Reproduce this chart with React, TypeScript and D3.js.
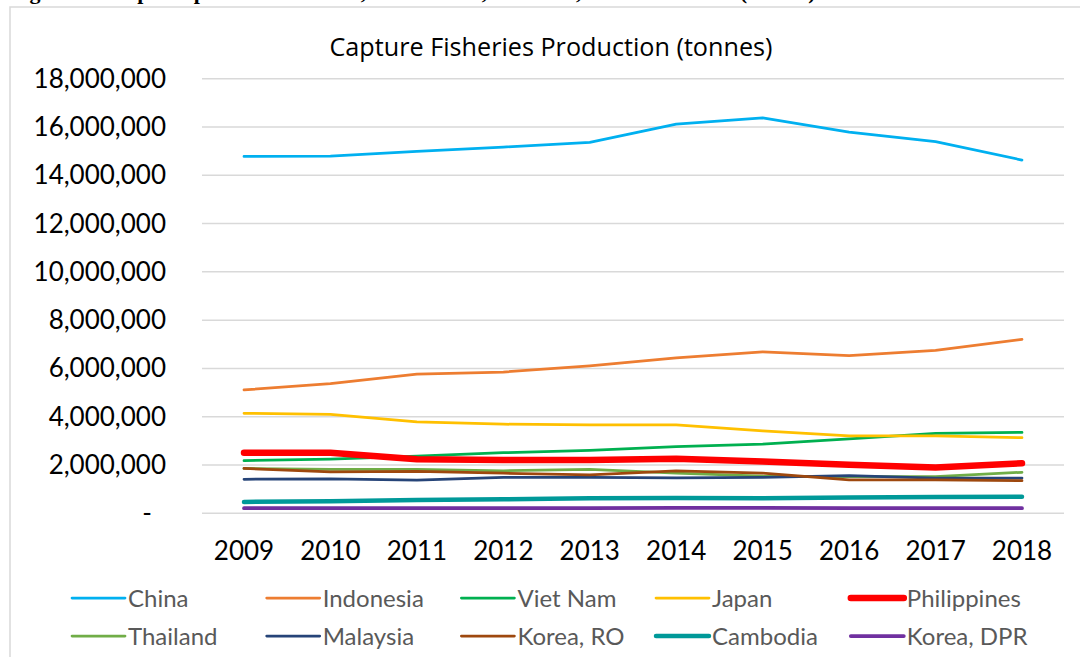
import React from "react";
import * as d3 from "d3";

const years = ["2009", "2010", "2011", "2012", "2013", "2014", "2015", "2016", "2017", "2018"];
const yTicks = [0, 2e6, 4e6, 6e6, 8e6, 10e6, 12e6, 14e6, 16e6, 18e6];

const china = [14.78e6, 14.79e6, 14.99e6, 15.17e6, 15.36e6, 16.12e6, 16.38e6, 15.79e6, 15.39e6, 14.63e6];
const indonesia = [5.11e6, 5.37e6, 5.76e6, 5.85e6, 6.11e6, 6.44e6, 6.69e6, 6.53e6, 6.75e6, 7.2e6];
const vietNam = [2.18e6, 2.24e6, 2.37e6, 2.51e6, 2.61e6, 2.76e6, 2.87e6, 3.08e6, 3.31e6, 3.35e6];
const japan = [4.14e6, 4.1e6, 3.79e6, 3.69e6, 3.66e6, 3.66e6, 3.41e6, 3.21e6, 3.21e6, 3.13e6];
const philippines = [2.51e6, 2.51e6, 2.24e6, 2.21e6, 2.21e6, 2.26e6, 2.15e6, 2.01e6, 1.9e6, 2.07e6];
const thailand = [1.86e6, 1.82e6, 1.82e6, 1.76e6, 1.82e6, 1.66e6, 1.54e6, 1.52e6, 1.52e6, 1.7e6];
const malaysia = [1.41e6, 1.43e6, 1.37e6, 1.49e6, 1.49e6, 1.47e6, 1.49e6, 1.56e6, 1.46e6, 1.46e6];
const koreaRO = [1.86e6, 1.72e6, 1.74e6, 1.66e6, 1.59e6, 1.76e6, 1.66e6, 1.38e6, 1.38e6, 1.35e6];
const cambodia = [0.47e6, 0.5e6, 0.55e6, 0.58e6, 0.62e6, 0.63e6, 0.62e6, 0.65e6, 0.67e6, 0.69e6];
const koreaDPR = [0.21e6, 0.21e6, 0.21e6, 0.21e6, 0.21e6, 0.22e6, 0.22e6, 0.21e6, 0.21e6, 0.21e6];

const seriesNames = ["China", "Indonesia", "Viet Nam", "Japan", "Philippines", "Thailand", "Malaysia", "Korea, RO", "Cambodia", "Korea, DPR"];
const seriesValues = [china, indonesia, vietNam, japan, philippines, thailand, malaysia, koreaRO, cambodia, koreaDPR];
const seriesColors = ["#00B0F0", "#ED7D31", "#00B050", "#FFC000", "#FF0000", "#70AD47", "#264478", "#9E480E", "#009999", "#7030A0"];
const seriesWidths = [2.75, 2.75, 2.75, 2.75, 6.5, 2.75, 2.75, 2.75, 4.5, 3.75];

const title = "Capture Fisheries Production (tonnes)";
const caption = "Figure 5.1 Capture production of fish, crustaceans, mollusks, total 2009\u20132018 (tonnes)";

const W = 1080;
const H = 657;
const FONT = "Lato, 'Open Sans', sans-serif";
const TITLE_FONT = "'Open Sans', Lato, sans-serif";

export default function App() {
  const x = d3.scalePoint<string>().domain(years).range([244, 1022]);
  const y = d3.scaleLinear().domain([0, 18e6]).range([513.3, 78.7]);
  const fmt = d3.format(",");
  const line = d3
    .line<number>()
    .x((_, i) => x(years[i]) as number)
    .y((d) => y(d));

  const legendCols = [72, 266.7, 461.4, 656, 850.8];
  const legendRows = [598, 636];

  return (
    <div style={{ position: "absolute", left: 0, top: 0, width: W, height: H, overflow: "hidden", background: "#fff" }}>
      <style>{`body{margin:0}`}</style>
      <svg width={W} height={H} style={{ display: "block" }}>
        <rect x={0} y={0} width={W} height={H} fill="#fff" />
        <text x={10} y={-1.5} fontFamily="'Liberation Serif', 'Times New Roman', serif" fontWeight="bold" fontSize={22} fill="#000">
          {caption}
        </text>
        <rect x={10} y={7} width={W + 20} height={H + 20} fill="#fff" stroke="#D9D9D9" strokeWidth={1.5} />
        <text x={551} y={56} textAnchor="middle" fontFamily={TITLE_FONT} fontSize={25.2} fill="#000">
          {title}
        </text>
        {yTicks.map((t) => (
          <g key={t}>
            <line x1={202} x2={1064} y1={y(t)} y2={y(t)} stroke="#D9D9D9" strokeWidth={1.5} />
            <text
              x={t === 0 ? 152 : 166}
              y={y(t) + 9}
              textAnchor="end"
              fontFamily={FONT}
              fontSize={26}
              fill="#000"
            >
              {t === 0 ? "-" : fmt(t)}
            </text>
          </g>
        ))}
        {years.map((yr) => (
          <text key={yr} x={x(yr)} y={559.5} textAnchor="middle" fontFamily={FONT} fontSize={26} fill="#000">
            {yr}
          </text>
        ))}
        {seriesValues.map((vals, i) => (
          <path
            key={seriesNames[i]}
            d={line(vals) || ""}
            fill="none"
            stroke={seriesColors[i]}
            strokeWidth={seriesWidths[i]}
            strokeLinecap="round"
            strokeLinejoin="round"
          />
        ))}
        {seriesNames.map((name, i) => {
          const cx = legendCols[i % 5];
          const cy = legendRows[Math.floor(i / 5)];
          return (
            <g key={name}>
              <line
                x1={cx}
                x2={cx + 53}
                y1={cy}
                y2={cy}
                stroke={seriesColors[i]}
                strokeWidth={seriesWidths[i]}
                strokeLinecap="round"
              />
              <text x={cx + 56} y={cy + 8.5} fontFamily={FONT} fontSize={24} fill="#595959">
                {name}
              </text>
            </g>
          );
        })}
      </svg>
    </div>
  );
}
